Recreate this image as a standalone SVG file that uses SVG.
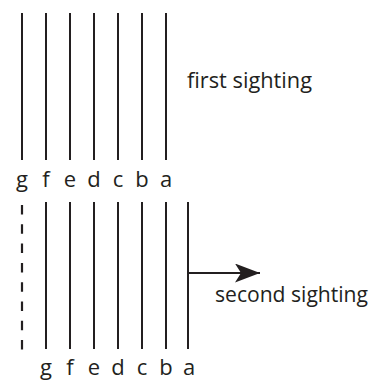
<svg xmlns="http://www.w3.org/2000/svg" width="371" height="380" viewBox="0 0 371 380">
<defs>
<style>
.ln{stroke:#231f20;stroke-width:2;fill:none}
.ds{stroke:#231f20;stroke-width:2.2;fill:none;stroke-dasharray:9.5 9.8}
.lb{font-family:"Open Sans","Noto Sans",sans-serif;font-size:22px;fill:#231f20;text-anchor:middle}
.tx{font-family:"Open Sans","Noto Sans",sans-serif;font-size:21.5px;fill:#231f20}
</style>
<marker id="ah" markerUnits="userSpaceOnUse" markerWidth="26" markerHeight="20" refX="25" refY="9.5" orient="auto">
<path d="M0,0 L25,9.5 L0,19 L6,9.5 Z" fill="#231f20"/>
</marker>
</defs>
<g id="first">
<line class="ln" x1="22" y1="13" x2="22" y2="160"/>
<line class="ln" x1="46" y1="13" x2="46" y2="160"/>
<line class="ln" x1="70" y1="13" x2="70" y2="160"/>
<line class="ln" x1="94" y1="13" x2="94" y2="160"/>
<line class="ln" x1="118" y1="13" x2="118" y2="160"/>
<line class="ln" x1="142" y1="13" x2="142" y2="160"/>
<line class="ln" x1="166" y1="13" x2="166" y2="160"/>
<text class="lb" x="22" y="187">g</text>
<text class="lb" x="46" y="187">f</text>
<text class="lb" x="70" y="187">e</text>
<text class="lb" x="94" y="187">d</text>
<text class="lb" x="118" y="187">c</text>
<text class="lb" x="142" y="187">b</text>
<text class="lb" x="166" y="187">a</text>
<text class="tx" x="187" y="88" textLength="125" lengthAdjust="spacingAndGlyphs">first sighting</text>
</g>
<g id="second">
<line class="ds" x1="22" y1="205" x2="22" y2="350"/>
<line class="ln" x1="46" y1="202" x2="46" y2="349"/>
<line class="ln" x1="70" y1="202" x2="70" y2="349"/>
<line class="ln" x1="94" y1="202" x2="94" y2="349"/>
<line class="ln" x1="118" y1="202" x2="118" y2="349"/>
<line class="ln" x1="142" y1="202" x2="142" y2="349"/>
<line class="ln" x1="166" y1="202" x2="166" y2="349"/>
<line class="ln" x1="188" y1="202" x2="188" y2="349"/>
<text class="lb" x="46" y="375">g</text>
<text class="lb" x="70" y="375">f</text>
<text class="lb" x="94" y="375">e</text>
<text class="lb" x="118" y="375">d</text>
<text class="lb" x="142" y="375">c</text>
<text class="lb" x="166" y="375">b</text>
<text class="lb" x="189" y="375">a</text>
<text class="tx" x="215" y="302" textLength="153" lengthAdjust="spacingAndGlyphs">second sighting</text>
</g>
<g id="connectors">
<line class="ln" x1="188" y1="273" x2="260" y2="273" marker-end="url(#ah)"/>
</g>
</svg>
